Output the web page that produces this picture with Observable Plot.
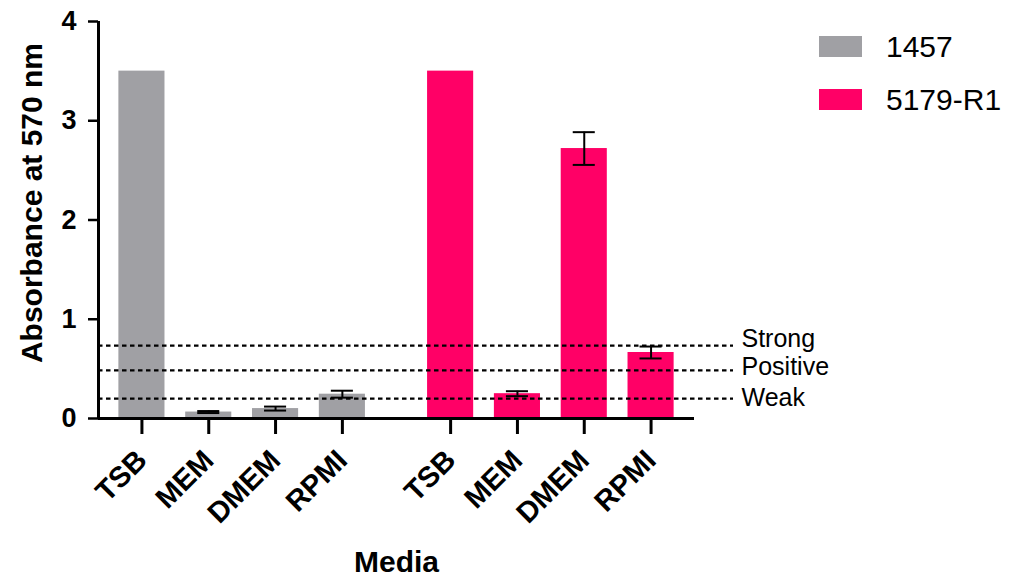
<!DOCTYPE html>
<html>
<head>
<meta charset="utf-8">
<script src="https://cdn.jsdelivr.net/npm/d3@7"></script>
<script src="https://cdn.jsdelivr.net/npm/@observablehq/plot@0.6"></script>
<style>
  html, body { margin: 0; padding: 0; background: white; }
  #wrap { position: relative; width: 1010px; height: 577px; font-family: "Liberation Sans", Arial, sans-serif; }
  .leg { position: absolute; display: flex; align-items: center; font-size: 30px; color: #000; }
  .sw { width: 43px; height: 21px; margin-right: 24px; }
</style>
</head>
<body>
<div id="wrap"></div>
<script>
// ---- data ----
const strains = ["1457", "5179-R1"];
const strainColors = ["#a0a0a4", "#ff0066"];
const media = ["TSB", "MEM", "DMEM", "RPMI"];
const mean1457 = [3.5, 0.065, 0.10, 0.245];
const sd1457 = [0, 0.01, 0.02, 0.035];
const mean5179 = [3.5, 0.25, 2.72, 0.665];
const sd5179 = [0, 0.025, 0.165, 0.06];
const thresholdLabels = ["Strong", "Positive", "Weak"];
const thresholdValues = [0.735, 0.485, 0.2];
const yTicks = [0, 1, 2, 3, 4];

// ---- layout ----
const groupStride = 4.62;   // slots between first bars of the two groups
const barHalf = 0.345;
const capHalf = 0.165;
const xDomain = [-0.65, 8.27];
const thresholdLabelDy = [-6.5, -3.5, -1];

const means = [mean1457, mean5179];
const sds = [sd1457, sd5179];
const rows = strains.flatMap((s, gi) => media.map((m, mi) => ({
  strain: s, medium: m, pos: gi * groupStride + mi, mean: means[gi][mi], sd: sds[gi][mi]
})));
const errRows = rows.filter(d => d.sd > 0);
const caps = errRows.flatMap(d => [{pos: d.pos, y: d.mean + d.sd}, {pos: d.pos, y: d.mean - d.sd}]);
const thresholds = thresholdLabels.map((l, i) => ({label: l, value: thresholdValues[i]}));
const labelAt = p => rows.find(r => Math.abs(r.pos - p) < 1e-6).medium;

const chart = Plot.plot({
  width: 1010, height: 577,
  marginLeft: 98, marginRight: 316, marginTop: 21, marginBottom: 159,
  style: {fontFamily: "'Liberation Sans', Arial, sans-serif", color: "black", background: "white", overflow: "visible"},
  x: {type: "linear", domain: xDomain, axis: null},
  y: {domain: [0, 4], axis: null},
  color: {domain: strains, range: strainColors},
  marks: [
    Plot.rectY(rows, {x1: d => d.pos - barHalf, x2: d => d.pos + barHalf, y1: 0, y2: "mean", fill: "strain"}),
    Plot.ruleY(thresholds, {y: "value", stroke: "black", strokeWidth: 2.2, strokeDasharray: "4.5,3.5", insetRight: -39}),
    ...thresholds.map((t, i) => Plot.text([t], {y: "value", text: "label", frameAnchor: "right", textAnchor: "start",
      dx: 47, dy: thresholdLabelDy[i], fontSize: 25, fill: "black"})),
    Plot.ruleX(errRows, {x: "pos", y1: d => d.mean - d.sd, y2: d => d.mean + d.sd, stroke: "black", strokeWidth: 2}),
    Plot.ruleY(caps, {y: "y", x1: d => d.pos - capHalf, x2: d => d.pos + capHalf, stroke: "black", strokeWidth: 2}),
    Plot.ruleY([0], {stroke: "black", strokeWidth: 3}),
    Plot.ruleX([xDomain[0]], {y1: 0, y2: 4, stroke: "black", strokeWidth: 3}),
    Plot.axisY({ticks: yTicks, tickFormat: d => String(d), tickSize: 10, tickPadding: 12, fontSize: 27, fontWeight: "bold", strokeWidth: 2.5, label: null}),
    Plot.axisX({ticks: rows.map(d => d.pos), tickFormat: labelAt, tickSize: 16, tickPadding: 21, tickRotate: -45,
                fontSize: 29, fontWeight: "bold", strokeWidth: 3, label: null}),
    Plot.text(["Absorbance at 570 nm"], {frameAnchor: "left", textAnchor: "middle", rotate: -90, dx: -66, dy: -17, fontSize: 30, fontWeight: "bold", fill: "black"}),
    Plot.text(["Media"], {frameAnchor: "bottom", textAnchor: "middle", lineAnchor: "bottom", dy: 153, fontSize: 30, fontWeight: "bold", fill: "black"})
  ]
});

const wrap = document.getElementById("wrap");
wrap.appendChild(chart);
strains.forEach((s, i) => {
  const row = document.createElement("div");
  row.className = "leg";
  row.style.left = "819px";
  row.style.top = (30 + i * 53) + "px";
  row.style.height = "33px";
  const sw = document.createElement("div");
  sw.className = "sw";
  sw.style.background = strainColors[i];
  const tx = document.createElement("span");
  tx.textContent = s;
  row.appendChild(sw);
  row.appendChild(tx);
  wrap.appendChild(row);
});
</script>
</body>
</html>
